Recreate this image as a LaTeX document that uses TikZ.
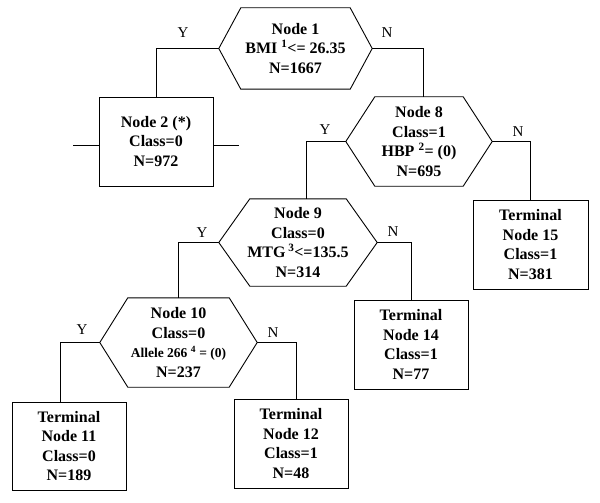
\documentclass[tikz,border=0pt]{standalone}
\usepackage{fontspec}
\setmainfont{Liberation Serif}
\usetikzlibrary{calc}
\begin{document}
\begin{tikzpicture}[x=1pt,y=-1pt,
  edge/.style={draw=black, line width=0.9pt},
  txt/.style={font=\fontsize{16}{19.5}\selectfont\bfseries, align=center, inner sep=0pt},
  hexnode/.style={txt, draw=none},
  boxnode/.style={txt, draw=black, line width=0.9pt, minimum width=114pt, minimum height=89pt},
  lbl/.style={font=\fontsize{15}{16}\selectfont, inner sep=0pt}
]
\useasboundingbox (0,0) rectangle (600,503);
\fill[white] (0,0) rectangle (600,503);

% decision nodes (hexagons)
\node[hexnode, minimum width=153pt, minimum height=81pt] (n1) at (295.5,48.5)
  {Node 1\\BMI~\textsuperscript{1}<= 26.35\\N=1667};
\node[hexnode, minimum width=146pt, minimum height=89pt] (n8) at (419,141.5)
  {Node 8\\Class=1\\HBP~\textsuperscript{2}= (0)\\N=695};
\node[hexnode, minimum width=158pt, minimum height=87pt] (n9) at (298,242.5)
  {Node 9\\Class=0\\MTG\,\textsuperscript{3}<=135.5\\N=314};
\node[hexnode, minimum width=157pt, minimum height=89pt] (n10) at (178.5,342.5)
  {Node 10\\Class=0\\{\fontsize{13.5}{19.5}\selectfont Allele 266 \textsuperscript{4} = (0)}\\N=237};

\newcommand{\hexdraw}[2]{%
  \draw[edge] ([xshift=#2pt]#1.north west) -- ([xshift=-#2pt]#1.north east) -- (#1.east)
    -- ([xshift=-#2pt]#1.south east) -- ([xshift=#2pt]#1.south west) -- (#1.west) -- cycle;}
\hexdraw{n1}{22}
\hexdraw{n8}{29}
\hexdraw{n9}{31}
\hexdraw{n10}{28}

% boxes
\node[boxnode] (n2) at (156,141.5) {Node 2 (*)\\Class=0\\N=972};
\node[boxnode, minimum width=115pt] (t15) at (530.5,244.5) {Terminal\\Node 15\\Class=1\\N=381};
\node[boxnode] (t14) at (411,344.5) {Terminal\\Node 14\\Class=1\\N=77};
\node[boxnode, minimum height=88pt] (t11) at (69,446) {Terminal\\Node 11\\Class=0\\N=189};
\node[boxnode] (t12) at (291,443.5) {Terminal\\Node 12\\Class=1\\N=48};

% stubs of node 2
\draw[edge] ([yshift=-3.5pt]n2.west) -- ++(-26,0);
\draw[edge] ([yshift=-3.5pt]n2.east) -- ++(26,0);

% connectors
\draw[edge] (n1.west) -| (n2.north);
\draw[edge] (n1.east) -| ([xshift=4pt]n8.north);
\draw[edge] (n8.west) -| ([xshift=8pt]n9.north);
\draw[edge] (n8.east) -| (t15.north);
\draw[edge] (n9.west) -| (n10.north);
\draw[edge] (n9.east) -| (t14.north);
\draw[edge] (n10.west) -| ([xshift=-9pt]t11.north);
\draw[edge] (n10.east) -| ([xshift=5pt]t12.north);

% labels
\node[lbl] (y1) at (183,33) {Y};
\node[lbl] (no1) at (387,33) {N};
\node[lbl] (y8) at (325,130) {Y};
\node[lbl] (no8) at (518,132) {N};
\node[lbl] (y9) at (202,233) {Y};
\node[lbl] (no9) at (393,232) {N};
\node[lbl] (y10) at (82,330) {Y};
\node[lbl] (no10) at (273,333) {N};
\end{tikzpicture}
\end{document}
